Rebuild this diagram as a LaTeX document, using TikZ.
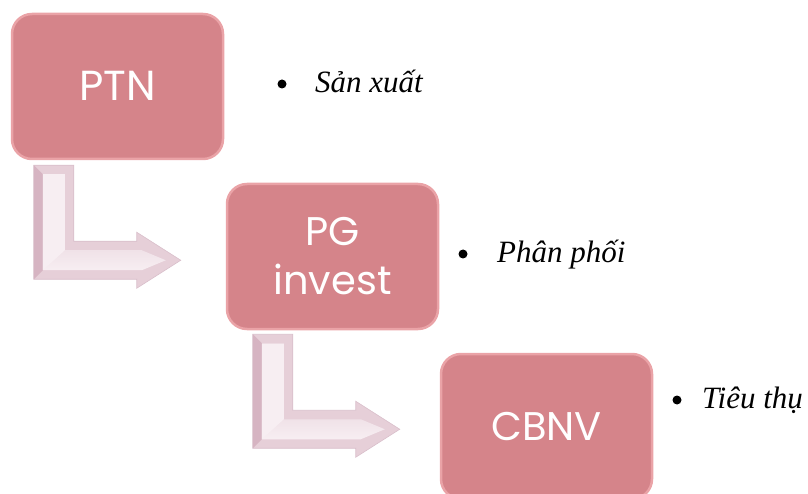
\documentclass[tikz,border=0pt]{standalone}
\usepackage{fontspec}
\setmainfont{Liberation Serif}
\newfontfamily\boxfont{Poppins}
\definecolor{boxfill}{HTML}{D5848A}
\definecolor{boxrim}{HTML}{EAA3A7}
\definecolor{arrowmid}{HTML}{E6CFD8}
\definecolor{arrowedge}{HTML}{D9BFCB}
\definecolor{arrowdark}{HTML}{D6B4C2}
\definecolor{arrowlight}{HTML}{F7EEF2}
\tikzset{
  boxnode/.style={rectangle, rounded corners=20pt, fill=boxfill, draw=boxrim, line width=2.5pt,
    minimum width=211pt, minimum height=145pt, inner sep=0pt, text=white,
    font=\boxfont\fontsize{42}{50}\selectfont, align=center},
  bulnode/.style={circle, fill=black, inner sep=0pt, minimum size=9pt},
  labnode/.style={anchor=base west, inner sep=0pt, font=\fontsize{31}{37}\selectfont\itshape},
  bentarrow/.pic={
    \path[fill=arrowmid, draw=arrowedge, line width=0.6pt]
      (0,0) -- (40,0) -- (40,76) -- (103,76) -- (103,67) -- (147,95) -- (103,123) -- (103,114) -- (0,114) -- cycle;
    \path[fill=arrowdark] (0,0) -- (9,9) -- (9,105) -- (0,114) -- cycle;
    \path[top color=arrowdark, bottom color=arrowlight]
      (9,9) -- (31,9) -- (31,85) -- (108,85) -- (132,95) -- (108,105) -- (9,105) -- cycle;
    \path[fill=arrowlight] (9,9) -- (31,9) -- (31,85) -- (9,105) -- cycle;
  }
}
\begin{document}
\begin{tikzpicture}[x=1pt,y=-1pt]
\useasboundingbox (0,0) rectangle (808,494);
\begin{scope}
\clip (0,0) rectangle (808,494);
\node[boxnode] (ptn) at (117.5,86.5) {\raisebox{2pt}{PTN}};
\node[boxnode, font=\boxfont\fontsize{40}{50}\selectfont] (pg) at (332.5,256.5) {PG\\[-1pt]invest};
\node[boxnode, font=\boxfont\fontsize{40}{50}\selectfont] (cbnv) at (546.5,426.5) {CBNV};
\path (ptn.south west) ++(23,5) pic {bentarrow};
\path (pg.south west) ++(27,4) pic {bentarrow};
\end{scope}
\node[bulnode] (b1) at (282,84) {};
\node[labnode] (l1) at (315,93) {Sản xuất};
\node[bulnode] (b2) at (463,254) {};
\node[labnode] (l2) at (497,262) {Phân phối};
\node[bulnode] (b3) at (677,400) {};
\node[labnode] (l3) at (702,408) {Tiêu thụ};
\end{tikzpicture}
\end{document}
